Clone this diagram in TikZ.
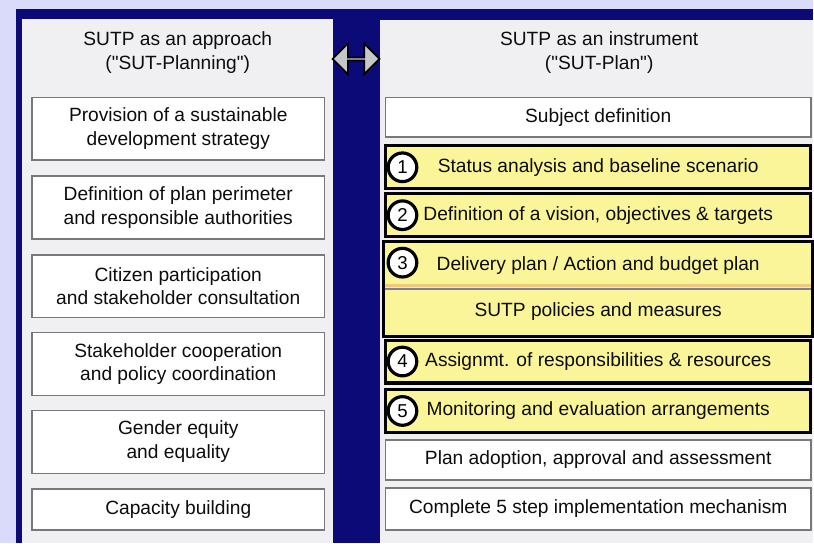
\documentclass[tikz,border=0pt]{standalone}
\usepackage{fontspec}
\setmainfont{Liberation Sans}
\usetikzlibrary{shapes.arrows}
\definecolor{lavender}{RGB}{218,218,250}
\definecolor{navy}{RGB}{12,10,118}
\definecolor{panelgrey}{RGB}{240,239,242}
\definecolor{boxline}{RGB}{120,120,120}
\definecolor{stepyellow}{RGB}{250,245,152}
\definecolor{divblue}{RGB}{128,124,160}
\definecolor{divtan}{RGB}{240,200,120}
\tikzset{
  sutpfont/.style={font=\fontsize{14.4}{18}\selectfont, text=black!95},
  heading/.style={sutpfont, align=center, inner sep=0pt},
  plainbox/.style={sutpfont, draw=boxline, line width=1.3pt, fill=white, align=center, inner sep=0pt},
  leftbox/.style={plainbox, minimum width=219.75pt, minimum height=47.25pt},
  rightbox/.style={plainbox, minimum width=319.5pt, minimum height=30pt},
  stepbox/.style={sutpfont, draw=black, line width=2.3pt, fill=stepyellow, minimum width=319.5pt, minimum height=32.25pt, inner sep=0pt},
  stepnum/.style={circle, draw=black, line width=2.4pt, fill=white, minimum size=21.5pt, inner sep=0pt, font=\fontsize{14}{16}\selectfont},
  linkarrow/.style={double arrow, draw=black, line width=1.3pt, fill=black!22, minimum height=35.25pt, minimum width=23pt, double arrow head extend=6pt, inner sep=0pt},
}

\begin{document}
\begin{tikzpicture}[x=0.75pt,y=0.75pt,yscale=-1,xscale=1]
%Shape: Rectangle (page and frame)
\fill [lavender] (0,0) rectangle (814,544);
\fill [navy] (16,9) rectangle (814,544);
%Shape: Rectangle (two panels)
\fill [panelgrey] (22,19) rectangle (333,544);
\fill [panelgrey] (380,20) rectangle (814,544);

%Double arrow between the panels
\node [linkarrow] (link) at (356.5,59) {};

% Text Node
\node [heading] (approachhead) at (178,53) {SUTP as an approach\\(\textquotedbl SUT-Planning\textquotedbl)};
% Text Node
\node [heading] (instrumenthead) at (600,53) {SUTP as an instrument\\(\textquotedbl SUT-Plan\textquotedbl)};

%Left column
\node [leftbox] (strategy) at (178.5,129) {Provision of a sustainable\\development strategy};
\node [leftbox] (perimeter) at (178.5,207.5) {Definition of plan perimeter\\and responsible authorities};
\node [leftbox] (participation) at (178.5,286.5) {Citizen participation\\and stakeholder consultation};
\node [leftbox] (cooperation) at (178.5,364.5) {Stakeholder cooperation\\and policy coordination};
\node [leftbox] (gender) at (178.5,442.5) {Gender equity\\and equality};
\node [leftbox, minimum height=30.75pt] (capacity) at (178.5,510) {Capacity building};

%Right column
\node [rightbox] (subject) at (599,117.5) {Subject definition};
\node [stepbox] (step1) at (599,167.5) {Status analysis and baseline scenario};
\node [stepbox] (step2) at (599,215.5) {Definition of a vision, objectives \& targets};
\node [stepbox, draw=none, minimum height=33.75pt] (step3) at (599,265.5) {Delivery plan / Action and budget plan};
\node [stepbox, draw=none, minimum height=35.25pt] (measures) at (599,311.5) {SUTP policies and measures};
\draw [divblue, line width=1.5pt] (step3.south west) -- (step3.south east);
\draw [divtan, line width=2.2pt] ([yshift=-3pt]step3.south west) -- ([yshift=-3pt]step3.south east);
\draw [black, line width=2.3pt] (step3.north west) rectangle (measures.south east);
\node [stepbox] (step4) at (599,362) {Assignmt. of responsibilities \& resources};
\node [stepbox] (step5) at (599,411.5) {Monitoring and evaluation arrangements};
\node [rightbox] (adoption) at (599,460.5) {Plan adoption, approval and assessment};
\node [rightbox, minimum height=31.5pt] (mechanism) at (599,509.5) {Complete 5 step implementation mechanism};

%Circled step numbers
\node [stepnum] (num1) at (403,167.5) {1};
\node [stepnum] (num2) at (403,215.5) {2};
\node [stepnum] (num3) at (403,263) {3};
\node [stepnum] (num4) at (403,362) {4};
\node [stepnum] (num5) at (403,411.5) {5};

\end{tikzpicture}
\end{document}
